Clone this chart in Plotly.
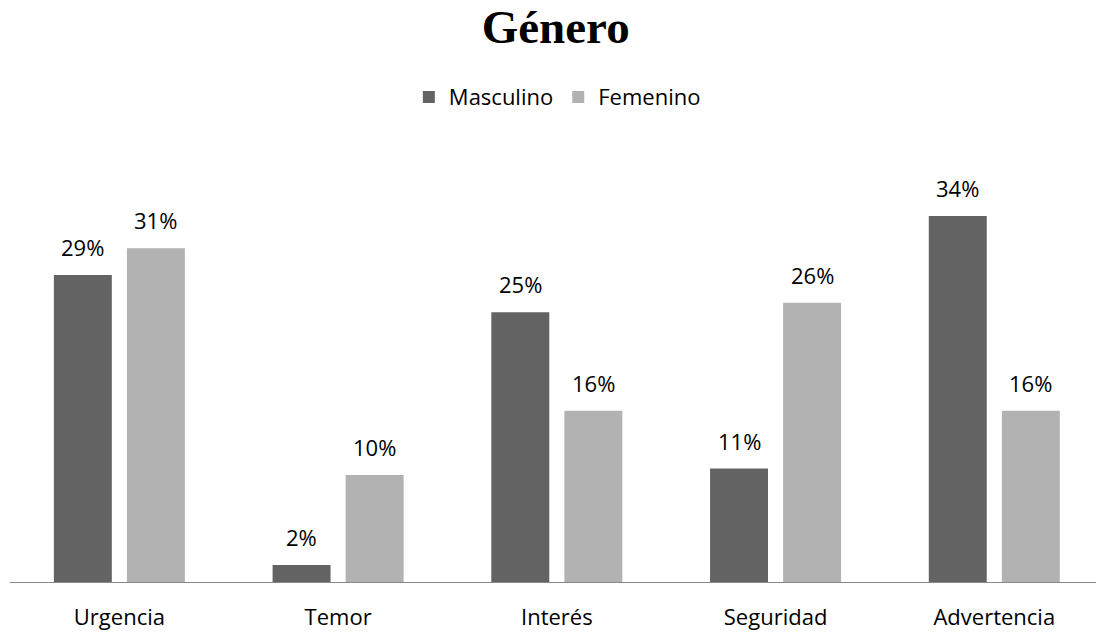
import plotly.graph_objects as go

categories = ["Urgencia", "Temor", "Interés", "Seguridad", "Advertencia"]
masculino = [0.287, 0.016, 0.252, 0.106, 0.342]
femenino = [0.312, 0.100, 0.160, 0.261, 0.160]
series_names = ["Masculino", "Femenino"]
title_text = "Género"

colors = ["#636363", "#b2b2b2"]
bar_w = 0.265
centers = [-0.167, 0.167]
FONT = "Open Sans, Lato, sans-serif"

fig = go.Figure()
annotations = []
for k, (name, vals) in enumerate(zip(series_names, [masculino, femenino])):
    fig.add_trace(go.Bar(
        x=categories, y=vals, name=name,
        marker=dict(color=colors[k], line=dict(width=0)),
        width=bar_w, offset=centers[k] - bar_w / 2,
        hoverinfo="skip",
    ))
    for j, v in enumerate(vals):
        annotations.append(dict(
            x=j + centers[k], y=v, xref="x", yref="y",
            text=f"{round(v * 100):d}%", showarrow=False,
            yanchor="middle", yshift=28,
            font=dict(family=FONT, size=22, color="#000000"),
        ))

fig.update_layout(
    width=1096, height=634,
    paper_bgcolor="white", plot_bgcolor="white",
    margin=dict(l=10, r=0, t=154, b=52),
    barmode="overlay",
    title=dict(text="<b>" + title_text + "</b>", x=0.507, xanchor="center",
               y=0.958, yanchor="middle",
               font=dict(family="Liberation Serif, Times New Roman, serif", size=47, color="#000000")),
    legend=dict(orientation="h", x=0.504, xanchor="center", y=1.133, yanchor="middle",
                font=dict(family=FONT, size=22, color="#000000"),
                traceorder="normal", itemwidth=30),
    xaxis=dict(type="category", range=[-0.5, 4.465], showgrid=False, zeroline=False,
               showline=True, linecolor="#898989", linewidth=1,
               ticks="", ticklabelstandoff=16,
               tickfont=dict(family=FONT, size=22, color="#000000")),
    yaxis=dict(range=[0, 0.4], visible=False, showgrid=False, zeroline=False),
    annotations=annotations,
    showlegend=True,
)

fig.write_html("out.html", config={"displayModeBar": False},
               post_script="document.body.style.margin='0';document.body.style.overflow='hidden';")
